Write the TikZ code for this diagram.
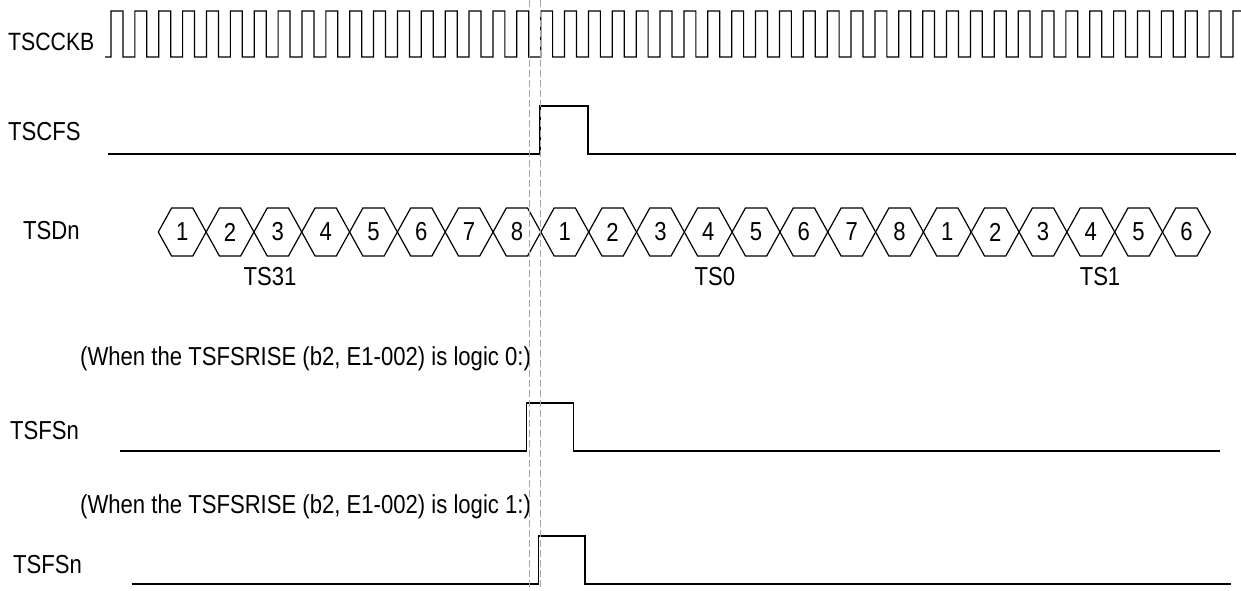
\documentclass[tikz,border=0pt]{standalone}
\usepackage{fontspec}
\setmainfont{Liberation Sans}[FakeStretch=0.85]
\begin{document}
\begin{tikzpicture}[x=1pt,y=-1pt,
  wave/.style={line width=1.2pt,black},
  guide/.style={line width=1pt,gray!70,dash pattern=on 7pt off 3pt},
  lbl/.style={anchor=base west,inner sep=0pt,font=\fontsize{26}{30}\selectfont},
  clbl/.style={anchor=base,inner sep=0pt,font=\fontsize{26}{30}\selectfont},
  hexlbl/.style={inner sep=0pt,font=\fontsize{26}{30}\selectfont}]
\useasboundingbox (0,0) rectangle (1241,590);
% labels
\node[lbl,font=\fontsize{25}{30}\selectfont] (ckb) at (8,50) {TSCCKB};
\node[lbl] (cfs) at (8,140) {TSCFS};
\node[lbl] (sdn) at (23,239) {TSDn};
\node[clbl] (ts31) at (270,285) {TS31};
\node[clbl] (ts0) at (715,285) {TS0};
\node[clbl] (ts1) at (1100,285) {TS1};
\node[lbl] (note0) at (80,365) {(When the TSFSRISE (b2, E1-002) is logic 0:)};
\node[lbl] (fs1) at (10,439) {TSFSn};
\node[lbl] (note1) at (80,513) {(When the TSFSRISE (b2, E1-002) is logic 1:)};
\node[lbl] (fs2) at (13,573) {TSFSn};
% clock
\draw[wave] (105,57) -- (111,57)
  \foreach \k in {0,...,46} {
    -- ({111+\k*23.872},11) -- ({111+\k*23.872+11.936},11)
    -- ({111+\k*23.872+11.936},57) -- ({111+(\k+1)*23.872},57)
  }
  -- (1233,11) -- (1241,11);
% TSCFS
\draw[wave] (108,154) -- (540,154) -- (540,106) -- (588,106) -- (588,154) -- (1236,154);
% TSDn hexagons
\foreach \lab [count=\i from 0] in {1,2,3,4,5,6,7,8,1,2,3,4,5,6,7,8,1,2,3,4,5,6} {
  \pgfmathsetmacro{\a}{158.3+\i*47.82}
  \pgfmathsetmacro{\b}{\a+47.82}
  \draw[wave] (\a,232) -- (\a+13.3,208) -- (\b-13.3,208) -- (\b,232)
    -- (\b-13.3,256) -- (\a+13.3,256) -- cycle;
  \node[hexlbl] (hex\i) at ({(\a+\b)/2},232) {\lab};
}
% TSFSn (logic 0)
\draw[wave] (120,451) -- (526.7,451) -- (526.7,403) -- (573.3,403) -- (573.3,451) -- (1220,451);
% TSFSn (logic 1)
\draw[wave] (131.7,584) -- (538.3,584) -- (538.3,536) -- (585,536) -- (585,584) -- (1231,584);
% guides
\draw[guide] (529,0) -- (529,590);
\draw[guide] (540,0) -- (540,590);
\end{tikzpicture}
\end{document}
